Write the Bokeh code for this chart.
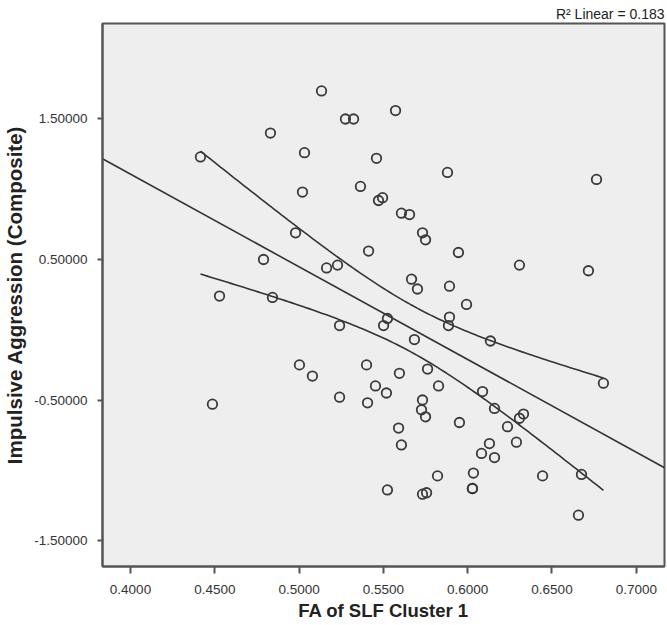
import numpy as np
from bokeh.plotting import figure
from bokeh.models import Range1d, FixedTicker, NumeralTickFormatter
from bokeh.embed import file_html
from bokeh.resources import INLINE

# ---- data ----
fa_slf_cluster1 = [
    0.5133, 0.5275, 0.5323, 0.5572, 0.4830, 0.5032, 0.5459, 0.5880, 0.6764, 0.5020,
    0.5364, 0.5471, 0.5495, 0.5607, 0.5655, 0.4415, 0.4979, 0.5732, 0.5750, 0.5412,
    0.5945, 0.6307, 0.6716, 0.4789, 0.5163, 0.5228, 0.5667, 0.5702, 0.5892, 0.4528,
    0.4842, 0.5993, 0.5240, 0.5501, 0.5524, 0.5892, 0.5886, 0.5684, 0.6135, 0.6805,
    0.5002, 0.5079, 0.5400, 0.5453, 0.5240, 0.5406, 0.4486, 0.5762, 0.5595, 0.5827,
    0.5518, 0.6088, 0.6159, 0.5732, 0.5726, 0.5750, 0.6331, 0.6307, 0.5951, 0.6236,
    0.5590, 0.5607, 0.6289, 0.6129, 0.6082, 0.6159, 0.5821, 0.6034, 0.6444, 0.6675,
    0.5524, 0.5732, 0.5756, 0.6028, 0.6028, 0.6657,
]
impulsive_aggression = [
    1.70, 1.50, 1.50, 1.56, 1.40, 1.26, 1.22, 1.12, 1.07, 0.98,
    1.02, 0.92, 0.94, 0.83, 0.82, 1.23, 0.69, 0.69, 0.64, 0.56,
    0.55, 0.46, 0.42, 0.50, 0.44, 0.46, 0.36, 0.29, 0.31, 0.24,
    0.23, 0.18, 0.03, 0.03, 0.08, 0.09, 0.03, -0.07, -0.08, -0.38,
    -0.25, -0.33, -0.25, -0.40, -0.48, -0.52, -0.53, -0.28, -0.31, -0.40,
    -0.45, -0.44, -0.56, -0.50, -0.57, -0.62, -0.60, -0.63, -0.66, -0.69,
    -0.70, -0.82, -0.80, -0.81, -0.88, -0.91, -1.04, -1.02, -1.04, -1.03,
    -1.14, -1.17, -1.16, -1.13, -1.13, -1.32,
]
x_ticks = [0.40, 0.45, 0.50, 0.55, 0.60, 0.65, 0.70]
y_ticks = [-1.5, -0.5, 0.5, 1.5]
r2_text = "R\u00b2 Linear = 0.183"
x_title = "FA of SLF Cluster 1"
y_title = "Impulsive Aggression (Composite)"

X_START, X_END = 0.38339, 0.71673
Y_START, Y_END = -1.685, 2.1797

# ---- linear fit and 95% mean confidence band (derived from the data) ----
x = np.array(fa_slf_cluster1)
y = np.array(impulsive_aggression)
n = len(x)
slope, intercept = np.polyfit(x, y, 1)
resid = y - (intercept + slope * x)
s = np.sqrt(np.sum(resid ** 2) / (n - 2))
sxx = np.sum((x - x.mean()) ** 2)
t_crit = 1.993
xs = np.linspace(x.min(), x.max(), 120)
fit_xs = intercept + slope * xs
half = t_crit * s * np.sqrt(1.0 / n + (xs - x.mean()) ** 2 / sxx)
line_x = np.array([X_START, X_END])
line_y = intercept + slope * line_x

FONT = "Liberation Sans"
INK = "#333333"

p = figure(
    width=667, height=625,
    x_range=Range1d(X_START, X_END), y_range=Range1d(Y_START, Y_END),
    output_backend="svg", toolbar_location=None,
    min_border_left=102, min_border_right=3, min_border_top=23, min_border_bottom=59,
    background_fill_color="#EEEEEE", border_fill_color="white",
)
p.title.text = r2_text
p.title.align = "right"
p.title.standoff = 3
p.title.text_font = FONT
p.title.text_font_size = "14px"
p.title.text_font_style = "normal"
p.title.text_color = "#222222"

p.outline_line_color = "#555555"
p.outline_line_width = 2
p.xgrid.grid_line_color = None
p.ygrid.grid_line_color = None

for ax in (p.xaxis[0], p.yaxis[0]):
    ax.axis_line_color = "#555555"
    ax.axis_line_width = 2
    ax.major_tick_line_color = "#555555"
    ax.major_tick_line_width = 2
    ax.major_tick_in = 0
    ax.minor_tick_line_color = None
    ax.major_label_text_font = FONT
    ax.major_label_text_font_size = "13.5px"
    ax.major_label_text_color = "#333333"
    ax.axis_label_text_font = FONT
    ax.axis_label_text_font_style = "bold"
    ax.axis_label_text_color = "#222222"

p.xaxis.ticker = FixedTicker(ticks=x_ticks)
p.xaxis.formatter = NumeralTickFormatter(format="0.0000")
p.xaxis.major_tick_out = 7
p.xaxis.major_label_standoff = 11
p.xaxis.axis_label = x_title
p.xaxis.axis_label_text_font_size = "18.5px"
p.xaxis.axis_label_standoff = 3

p.yaxis.ticker = FixedTicker(ticks=y_ticks)
p.yaxis.formatter = NumeralTickFormatter(format="0.00000")
p.yaxis.major_tick_out = 5
p.yaxis.major_label_standoff = 10
p.yaxis.axis_label = y_title
p.yaxis.axis_label_text_font_size = "20.5px"
p.yaxis.axis_label_standoff = 5

p.line(line_x, line_y, line_color=INK, line_width=1.6)
p.line(xs, fit_xs + half, line_color=INK, line_width=1.6)
p.line(xs, fit_xs - half, line_color=INK, line_width=1.6)

p.scatter(x, y, marker="circle", size=9.5, fill_color=None,
          line_color="#3a3a3a", line_width=1.8)

open("out.html", "w").write(file_html(p, INLINE))
